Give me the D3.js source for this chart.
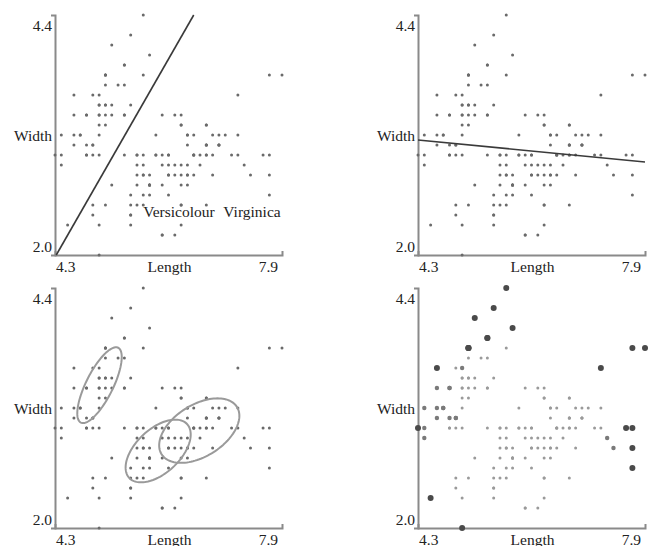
<!DOCTYPE html>
<html>
<head>
<meta charset="utf-8">
<script src="https://cdn.jsdelivr.net/npm/d3@7"></script>
<style>
  body { margin: 0; background: #fff; }
  svg { display: block; }
  text { font-family: "Liberation Serif", "Times New Roman", serif; font-size: 15.5px; fill: #222; }
</style>
</head>
<body>
<svg id="chart" width="652" height="546"></svg>
<script>
// iris sepal measurements, 50 per species (setosa, versicolour, virginica)
const sepalLength = [
  5.1,4.9,4.7,4.6,5.0,5.4,4.6,5.0,4.4,4.9,5.4,4.8,4.8,4.3,5.8,5.7,5.4,5.1,5.7,5.1,
  5.4,5.1,4.6,5.1,4.8,5.0,5.0,5.2,5.2,4.7,4.8,5.4,5.2,5.5,4.9,5.0,5.5,4.9,4.4,5.1,
  5.0,4.5,4.4,5.0,5.1,4.8,5.1,4.6,5.3,5.0,
  7.0,6.4,6.9,5.5,6.5,5.7,6.3,4.9,6.6,5.2,5.0,5.9,6.0,6.1,5.6,6.7,5.6,5.8,6.2,5.6,
  5.9,6.1,6.3,6.1,6.4,6.6,6.8,6.7,6.0,5.7,5.5,5.5,5.8,6.0,5.4,6.0,6.7,6.3,5.6,5.5,
  5.5,6.1,5.8,5.0,5.6,5.7,5.7,6.2,5.1,5.7,
  6.3,5.8,7.1,6.3,6.5,7.6,4.9,7.3,6.7,7.2,6.5,6.4,6.8,5.7,5.8,6.4,6.5,7.7,7.7,6.0,
  6.9,5.6,7.7,6.3,6.7,7.2,6.2,6.1,6.4,7.2,7.4,7.9,6.4,6.3,6.1,7.7,6.3,6.4,6.0,6.9,
  6.7,6.9,5.8,6.8,6.7,6.7,6.3,6.5,6.2,5.9
];
const sepalWidth = [
  3.5,3.0,3.2,3.1,3.6,3.9,3.4,3.4,2.9,3.1,3.7,3.4,3.0,3.0,4.0,4.4,3.9,3.5,3.8,3.8,
  3.4,3.7,3.6,3.3,3.4,3.0,3.4,3.5,3.4,3.2,3.1,3.4,4.1,4.2,3.1,3.2,3.5,3.6,3.0,3.4,
  3.5,2.3,3.2,3.5,3.8,3.0,3.8,3.2,3.7,3.3,
  3.2,3.2,3.1,2.3,2.8,2.8,3.3,2.4,2.9,2.7,2.0,3.0,2.2,2.9,2.9,3.1,3.0,2.7,2.2,2.5,
  3.2,2.8,2.5,2.8,2.9,3.0,2.8,3.0,2.9,2.6,2.4,2.4,2.7,2.7,3.0,3.4,3.1,2.3,3.0,2.5,
  2.6,3.0,2.6,2.3,2.7,3.0,2.9,2.9,2.5,2.8,
  3.3,2.7,3.0,2.9,3.0,3.0,2.5,2.9,2.5,3.6,3.2,2.7,3.0,2.5,2.8,3.2,3.0,3.8,2.6,2.2,
  3.2,2.8,2.8,2.7,3.3,3.2,2.8,3.0,2.8,3.0,2.8,3.8,2.8,2.8,2.6,3.0,3.4,3.1,3.0,3.1,
  3.1,3.1,2.7,3.2,3.3,3.0,2.5,3.0,3.4,3.0
];
const speciesNames = ["Setosa", "Versicolour", "Virginica"];
const perSpecies = 50;

const lengthTicks = ["4.3", "7.9"];
const widthTicks = ["2.0", "4.4"];

// panel 1: separating line, panel 2: fitted line (endpoints in data units)
const boundaryLine = [[4.32, 2.0], [6.5, 4.4]];
const regressionLine = [[4.3, 3.15], [7.9, 2.93]];

// panel 4: points flagged as outliers
const outlierStrong = [[5.7,4.4],[5.5,4.2],[5.2,4.1],[5.8,4.0],[5.4,3.9],[5.1,3.8],[4.6,3.6],
  [7.7,3.8],[7.9,3.8],[7.2,3.6],[4.5,2.3],[5.0,2.0],[7.7,2.6],[7.7,2.8],[7.6,3.0],[7.7,3.0],[4.3,3.0]];
const outlierMild = [[4.4,3.0],[4.4,3.2],[4.4,2.9],[4.6,3.4],[4.6,3.2],[4.7,3.2],[7.4,2.8],[7.3,2.9],
  [5.0,3.6],[4.8,3.4],[4.6,3.1],[4.8,3.1],[4.9,3.1]];

let points = sepalLength.map((l, i) => ({ l: l, w: sepalWidth[i], s: Math.floor(i / perSpecies) }));

let svg = d3.select("#chart");

let plotW = 227, plotH = 240;
let x = d3.scaleLinear().domain([4.3, 7.9]).range([0, plotW]);
let y = d3.scaleLinear().domain([2.0, 4.4]).range([plotH, 0]);

let origins = [[55, 15], [418, 15], [55, 288], [418, 288]];

let panels = origins.map(o => svg.append("g").attr("transform", "translate(" + o + ")"));

panels.forEach(g => {
    // axes
    g.append("g")
        .call(d3.axisLeft(y).tickValues([]).tickSizeOuter(4))
        .call(a => a.select(".domain").attr("stroke", "#8a8a8a").attr("stroke-width", 2));
    g.append("g")
        .attr("transform", "translate(0," + plotH + ")")
        .call(d3.axisBottom(x).tickValues([]).tickSizeOuter(-4))
        .call(a => a.select(".domain").attr("stroke", "#8a8a8a").attr("stroke-width", 2));

    // tick labels
    g.append("text").attr("x", -3).attr("y", y(4.4) + 15.5).style("text-anchor", "end").text(widthTicks[1]);
    g.append("text").attr("x", -3).attr("y", y(2.0) - 3).style("text-anchor", "end").text(widthTicks[0]);
    g.append("text").attr("x", x(4.3) + 1).attr("y", plotH + 17).style("text-anchor", "start").text(lengthTicks[0]);
    g.append("text").attr("x", x(7.9) - 4).attr("y", plotH + 17).style("text-anchor", "end").text(lengthTicks[1]);

    // axis titles
    g.append("text").attr("x", plotW / 2 + 1).attr("y", plotH + 17).style("text-anchor", "middle").text("Length");
    g.append("text").attr("x", -3).attr("y", plotH / 2 + 5.5).style("text-anchor", "end").text("Width");
});

// plain scatter for panels 1-3
[0, 1, 2].forEach(k => {
    panels[k].append("g")
        .selectAll("circle")
        .data(points)
        .enter()
        .append("circle")
        .attr("cx", d => x(d.l))
        .attr("cy", d => y(d.w))
        .attr("r", 1.5)
        .attr("fill", "#6a6a6a");
});

let line = d3.line().x(d => x(d[0])).y(d => y(d[1]));

// panel 1
panels[0].append("path")
    .attr("d", line(boundaryLine))
    .attr("fill", "none")
    .attr("stroke", "#3a3a3a")
    .attr("stroke-width", 1.6);

panels[0].append("text").attr("x", x(5.70)).attr("y", y(2.38)).text(speciesNames[1]);
panels[0].append("text").attr("x", x(6.97)).attr("y", y(2.38)).text(speciesNames[2]);

// panel 2
panels[1].append("path")
    .attr("d", line(regressionLine))
    .attr("fill", "none")
    .attr("stroke", "#3a3a3a")
    .attr("stroke-width", 1.6);

// panel 3: one-sigma ellipse per species
let ellipse = (group) => {
    let ml = d3.mean(group, d => d.l), mw = d3.mean(group, d => d.w);
    let n = group.length;
    let a = d3.sum(group, d => (d.l - ml) ** 2) / (n - 1);
    let b = d3.sum(group, d => (d.w - mw) ** 2) / (n - 1);
    let c = d3.sum(group, d => (d.l - ml) * (d.w - mw)) / (n - 1);
    let l11 = Math.sqrt(a), l21 = c / l11, l22 = Math.sqrt(b - l21 * l21);
    return d3.range(0, 2 * Math.PI, Math.PI / 60).map(t => [
        ml + l11 * Math.cos(t),
        mw + l21 * Math.cos(t) + l22 * Math.sin(t)
    ]);
};

let closedLine = d3.line().x(d => x(d[0])).y(d => y(d[1])).curve(d3.curveLinearClosed);

speciesNames.forEach((name, s) => {
    panels[2].append("path")
        .attr("d", closedLine(ellipse(points.filter(d => d.s === s))))
        .attr("fill", "none")
        .attr("stroke", "#9a9a9a")
        .attr("stroke-width", 2);
});

// panel 4: outliers drawn bigger and darker
let isIn = (list, d) => list.some(p => Math.abs(p[0] - d.l) < 1e-6 && Math.abs(p[1] - d.w) < 1e-6);
let level = d => isIn(outlierStrong, d) ? 2 : (isIn(outlierMild, d) ? 1 : 0);

panels[3].append("g")
    .selectAll("circle")
    .data(points.slice().sort((p, q) => level(p) - level(q)))
    .enter()
    .append("circle")
    .attr("cx", d => x(d.l))
    .attr("cy", d => y(d.w))
    .attr("r", d => [1.5, 2.2, 3][level(d)])
    .attr("fill", d => ["#9a9a9a", "#7a7a7a", "#4a4a4a"][level(d)]);
</script>
</body>
</html>
